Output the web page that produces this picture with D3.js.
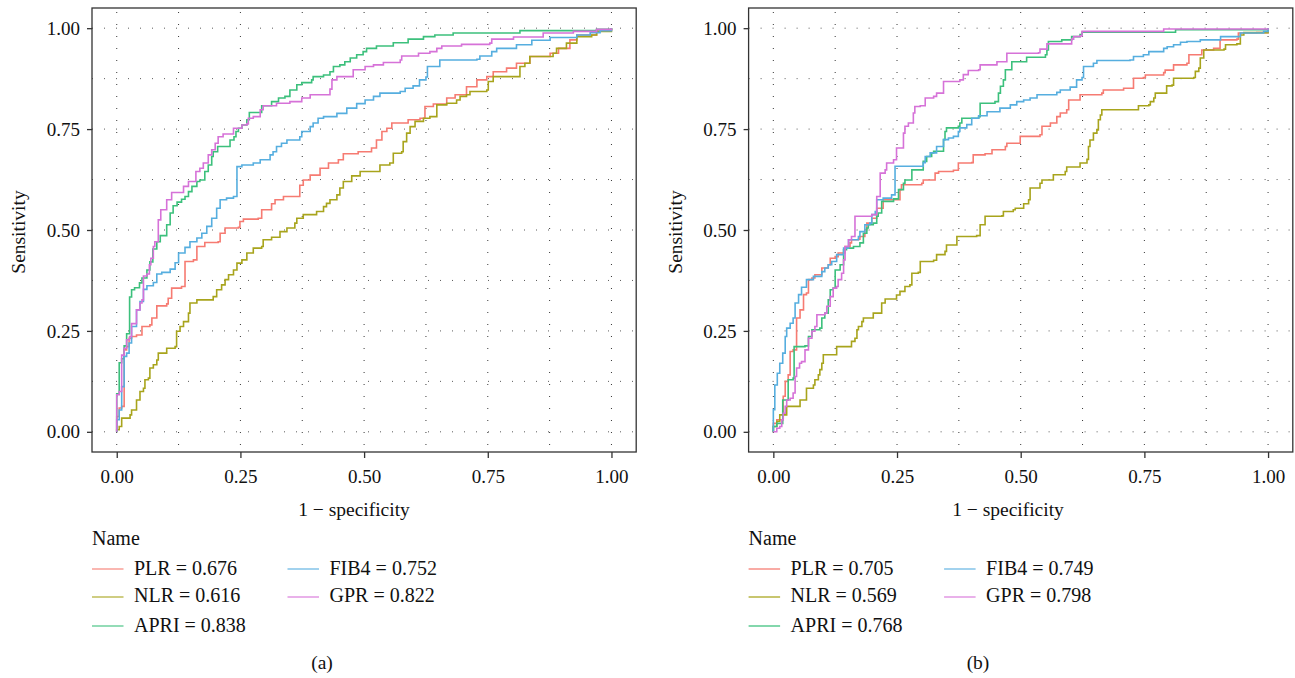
<!DOCTYPE html>
<html>
<head>
<meta charset="utf-8">
<script src="https://d3js.org/d3.v7.min.js"></script>
<style>
  body { margin: 0; background: #fff; }
  svg text { font-family: "Liberation Serif", "DejaVu Serif", serif; fill: #111; }
</style>
</head>
<body>
<script>
// series names, AUC values and ROC points [1 - specificity, sensitivity]
var names = ["PLR", "NLR", "APRI", "FIB4", "GPR"];
var aucA = [0.676, 0.616, 0.838, 0.752, 0.822];
var aucB = [0.705, 0.569, 0.768, 0.749, 0.798];
var tickVals = [0, 0.25, 0.5, 0.75, 1];
var gridVals = [0, 0.125, 0.25, 0.375, 0.5, 0.625, 0.75, 0.875, 1];

var a_PLR = [[0,0],[0,0.038],[0.005,0.059],[0.010,0.063],[0.015,0.203],[0.020,0.211],[0.025,0.232],[0.030,0.236],[0.040,0.240],[0.051,0.261],[0.067,0.265],[0.071,0.282],[0.081,0.312],[0.101,0.317],[0.104,0.331],[0.111,0.356],[0.131,0.360],[0.138,0.422],[0.155,0.426],[0.162,0.459],[0.178,0.469],[0.205,0.471],[0.209,0.492],[0.219,0.505],[0.246,0.507],[0.249,0.521],[0.256,0.527],[0.286,0.529],[0.293,0.550],[0.313,0.565],[0.320,0.575],[0.337,0.583],[0.370,0.611],[0.377,0.624],[0.391,0.636],[0.411,0.653],[0.428,0.666],[0.448,0.674],[0.458,0.689],[0.488,0.694],[0.515,0.703],[0.525,0.723],[0.536,0.744],[0.546,0.752],[0.556,0.765],[0.589,0.773],[0.613,0.777],[0.623,0.806],[0.640,0.812],[0.667,0.827],[0.684,0.835],[0.707,0.855],[0.728,0.872],[0.748,0.880],[0.761,0.892],[0.788,0.901],[0.808,0.913],[0.835,0.930],[0.876,0.938],[0.893,0.950],[0.916,0.971],[0.930,0.983],[0.970,0.996],[1,1]];
var a_NLR = [[0,0],[0,0.005],[0.005,0.013],[0.010,0.034],[0.027,0.042],[0.030,0.054],[0.040,0.079],[0.047,0.100],[0.054,0.108],[0.057,0.129],[0.064,0.133],[0.067,0.158],[0.074,0.166],[0.081,0.178],[0.084,0.195],[0.101,0.207],[0.118,0.211],[0.121,0.249],[0.128,0.261],[0.135,0.273],[0.145,0.294],[0.148,0.319],[0.162,0.327],[0.195,0.335],[0.202,0.352],[0.212,0.364],[0.219,0.377],[0.226,0.389],[0.236,0.401],[0.243,0.418],[0.253,0.426],[0.263,0.443],[0.276,0.455],[0.293,0.459],[0.296,0.476],[0.313,0.482],[0.330,0.496],[0.344,0.505],[0.360,0.517],[0.364,0.529],[0.377,0.538],[0.404,0.546],[0.418,0.558],[0.424,0.566],[0.431,0.575],[0.445,0.587],[0.451,0.604],[0.458,0.620],[0.475,0.634],[0.492,0.645],[0.532,0.661],[0.552,0.666],[0.559,0.690],[0.576,0.694],[0.579,0.719],[0.586,0.740],[0.593,0.756],[0.603,0.769],[0.620,0.777],[0.633,0.781],[0.647,0.810],[0.667,0.814],[0.687,0.822],[0.694,0.831],[0.707,0.835],[0.714,0.843],[0.748,0.847],[0.751,0.868],[0.761,0.880],[0.815,0.905],[0.825,0.913],[0.835,0.930],[0.882,0.938],[0.889,0.950],[0.909,0.963],[0.930,0.979],[0.960,0.983],[0.970,0.992],[1,1]];
var a_APRI = [[0,0],[0,0.094],[0.005,0.171],[0.010,0.181],[0.015,0.213],[0.020,0.243],[0.026,0.334],[0.030,0.352],[0.036,0.357],[0.046,0.369],[0.051,0.381],[0.061,0.401],[0.067,0.421],[0.073,0.453],[0.081,0.471],[0.088,0.486],[0.101,0.513],[0.108,0.542],[0.114,0.560],[0.122,0.569],[0.131,0.576],[0.138,0.583],[0.145,0.595],[0.152,0.608],[0.162,0.620],[0.168,0.624],[0.178,0.645],[0.185,0.661],[0.192,0.682],[0.195,0.694],[0.204,0.707],[0.229,0.723],[0.237,0.731],[0.241,0.744],[0.246,0.752],[0.253,0.760],[0.263,0.773],[0.268,0.791],[0.293,0.808],[0.313,0.818],[0.327,0.827],[0.340,0.831],[0.350,0.847],[0.364,0.860],[0.374,0.865],[0.394,0.872],[0.397,0.880],[0.418,0.884],[0.431,0.892],[0.438,0.905],[0.451,0.909],[0.461,0.917],[0.472,0.926],[0.485,0.934],[0.498,0.942],[0.505,0.950],[0.525,0.956],[0.559,0.964],[0.589,0.973],[0.620,0.979],[0.643,0.983],[0.680,0.988],[0.815,0.994],[0.970,0.997],[1,1]];
var a_FIB4 = [[0,0],[0,0.030],[0.005,0.054],[0.010,0.112],[0.015,0.187],[0.020,0.195],[0.025,0.220],[0.030,0.261],[0.040,0.302],[0.047,0.323],[0.054,0.353],[0.061,0.362],[0.074,0.370],[0.081,0.391],[0.091,0.395],[0.108,0.403],[0.118,0.419],[0.125,0.443],[0.138,0.457],[0.148,0.471],[0.162,0.480],[0.172,0.492],[0.182,0.509],[0.192,0.529],[0.202,0.554],[0.209,0.575],[0.222,0.579],[0.236,0.583],[0.243,0.657],[0.253,0.661],[0.276,0.666],[0.290,0.674],[0.310,0.686],[0.316,0.694],[0.323,0.707],[0.333,0.715],[0.344,0.723],[0.370,0.731],[0.374,0.744],[0.391,0.756],[0.397,0.765],[0.407,0.777],[0.418,0.781],[0.445,0.789],[0.465,0.802],[0.485,0.813],[0.502,0.822],[0.519,0.831],[0.532,0.839],[0.573,0.843],[0.583,0.851],[0.599,0.857],[0.612,0.872],[0.625,0.879],[0.628,0.905],[0.653,0.921],[0.728,0.923],[0.734,0.931],[0.758,0.942],[0.768,0.950],[0.808,0.959],[0.839,0.970],[0.876,0.977],[0.930,0.983],[0.957,0.989],[0.977,0.994],[1,1]];
var a_GPR = [[0,0],[0,0.092],[0.005,0.100],[0.010,0.190],[0.015,0.207],[0.020,0.228],[0.026,0.236],[0.030,0.268],[0.040,0.302],[0.047,0.319],[0.051,0.327],[0.054,0.386],[0.061,0.391],[0.066,0.414],[0.069,0.430],[0.074,0.459],[0.077,0.471],[0.084,0.525],[0.089,0.550],[0.101,0.575],[0.111,0.593],[0.135,0.608],[0.145,0.620],[0.160,0.645],[0.168,0.653],[0.175,0.666],[0.185,0.686],[0.192,0.699],[0.199,0.715],[0.205,0.731],[0.215,0.738],[0.236,0.752],[0.253,0.760],[0.263,0.763],[0.266,0.777],[0.276,0.781],[0.290,0.798],[0.296,0.808],[0.323,0.814],[0.350,0.818],[0.374,0.827],[0.391,0.835],[0.431,0.849],[0.435,0.872],[0.445,0.880],[0.478,0.897],[0.502,0.905],[0.519,0.909],[0.539,0.915],[0.573,0.921],[0.576,0.931],[0.610,0.938],[0.633,0.942],[0.647,0.950],[0.657,0.956],[0.697,0.960],[0.754,0.963],[0.758,0.973],[0.802,0.978],[0.862,0.988],[0.923,0.992],[0.970,0.997],[1,1]];

var b_PLR = [[0,0],[0,0.021],[0.007,0.030],[0.020,0.088],[0.024,0.125],[0.030,0.141],[0.034,0.199],[0.040,0.203],[0.047,0.282],[0.054,0.302],[0.061,0.340],[0.067,0.344],[0.071,0.377],[0.078,0.381],[0.084,0.389],[0.098,0.406],[0.111,0.414],[0.115,0.430],[0.125,0.434],[0.131,0.443],[0.145,0.459],[0.155,0.468],[0.158,0.476],[0.172,0.477],[0.175,0.484],[0.185,0.501],[0.189,0.517],[0.199,0.529],[0.209,0.554],[0.222,0.575],[0.256,0.600],[0.259,0.612],[0.300,0.616],[0.303,0.624],[0.327,0.641],[0.334,0.645],[0.364,0.648],[0.374,0.666],[0.401,0.667],[0.404,0.686],[0.428,0.689],[0.442,0.699],[0.469,0.707],[0.472,0.715],[0.499,0.732],[0.539,0.736],[0.543,0.757],[0.560,0.765],[0.573,0.781],[0.580,0.790],[0.593,0.798],[0.597,0.822],[0.620,0.835],[0.664,0.839],[0.667,0.847],[0.708,0.851],[0.728,0.876],[0.748,0.878],[0.752,0.884],[0.789,0.890],[0.792,0.896],[0.809,0.909],[0.836,0.913],[0.840,0.934],[0.866,0.946],[0.890,0.950],[0.903,0.971],[0.937,0.973],[0.940,0.988],[0.977,0.989],[1,1]];
var b_NLR = [[0,0],[0,0.013],[0.007,0.026],[0.013,0.042],[0.027,0.063],[0.054,0.079],[0.067,0.108],[0.081,0.116],[0.084,0.129],[0.091,0.141],[0.094,0.154],[0.098,0.170],[0.101,0.191],[0.128,0.211],[0.158,0.224],[0.165,0.232],[0.169,0.253],[0.172,0.261],[0.179,0.273],[0.182,0.282],[0.202,0.294],[0.219,0.319],[0.226,0.329],[0.249,0.339],[0.256,0.348],[0.266,0.360],[0.276,0.364],[0.280,0.393],[0.293,0.395],[0.297,0.422],[0.324,0.425],[0.330,0.439],[0.347,0.447],[0.350,0.463],[0.371,0.484],[0.411,0.486],[0.418,0.513],[0.428,0.534],[0.462,0.535],[0.465,0.546],[0.485,0.550],[0.489,0.554],[0.506,0.565],[0.516,0.575],[0.519,0.604],[0.539,0.616],[0.543,0.624],[0.566,0.637],[0.590,0.645],[0.593,0.656],[0.620,0.666],[0.634,0.675],[0.637,0.707],[0.640,0.723],[0.647,0.740],[0.654,0.748],[0.657,0.773],[0.661,0.785],[0.664,0.798],[0.738,0.808],[0.759,0.810],[0.762,0.818],[0.769,0.827],[0.772,0.839],[0.795,0.857],[0.806,0.859],[0.809,0.876],[0.850,0.878],[0.853,0.893],[0.860,0.901],[0.863,0.926],[0.870,0.946],[0.911,0.948],[0.914,0.959],[0.937,0.961],[0.944,0.983],[0.951,0.989],[0.998,0.989],[1,1]];
var b_APRI = [[0,0],[0,0.013],[0.007,0.021],[0.019,0.079],[0.030,0.129],[0.040,0.133],[0.042,0.211],[0.064,0.213],[0.071,0.236],[0.078,0.253],[0.094,0.257],[0.098,0.282],[0.104,0.294],[0.111,0.327],[0.115,0.352],[0.121,0.356],[0.125,0.401],[0.135,0.414],[0.142,0.451],[0.148,0.455],[0.162,0.459],[0.175,0.468],[0.182,0.492],[0.189,0.505],[0.192,0.513],[0.202,0.517],[0.209,0.534],[0.212,0.542],[0.219,0.571],[0.243,0.577],[0.253,0.600],[0.263,0.616],[0.266,0.624],[0.280,0.649],[0.303,0.670],[0.310,0.682],[0.320,0.691],[0.324,0.695],[0.344,0.724],[0.347,0.744],[0.350,0.753],[0.374,0.757],[0.377,0.765],[0.381,0.777],[0.415,0.781],[0.418,0.814],[0.448,0.818],[0.455,0.839],[0.459,0.856],[0.465,0.872],[0.469,0.897],[0.482,0.917],[0.512,0.928],[0.550,0.934],[0.553,0.946],[0.556,0.967],[0.583,0.971],[0.603,0.979],[0.620,0.984],[0.624,0.990],[0.813,0.990],[0.813,0.996],[1,1]];
var b_FIB4 = [[0,0],[0,0.055],[0.003,0.116],[0.008,0.145],[0.013,0.170],[0.019,0.195],[0.024,0.236],[0.027,0.257],[0.034,0.269],[0.040,0.282],[0.044,0.319],[0.051,0.340],[0.057,0.358],[0.067,0.377],[0.081,0.385],[0.098,0.397],[0.104,0.406],[0.111,0.414],[0.118,0.422],[0.128,0.439],[0.142,0.455],[0.152,0.476],[0.172,0.484],[0.175,0.496],[0.185,0.513],[0.195,0.517],[0.199,0.538],[0.206,0.546],[0.209,0.575],[0.222,0.579],[0.239,0.587],[0.246,0.658],[0.303,0.667],[0.307,0.682],[0.317,0.691],[0.330,0.707],[0.344,0.724],[0.354,0.728],[0.364,0.732],[0.374,0.744],[0.377,0.753],[0.391,0.761],[0.401,0.777],[0.415,0.783],[0.432,0.793],[0.458,0.802],[0.479,0.810],[0.492,0.818],[0.506,0.822],[0.519,0.827],[0.533,0.835],[0.573,0.841],[0.580,0.847],[0.600,0.854],[0.613,0.872],[0.624,0.878],[0.627,0.905],[0.647,0.913],[0.654,0.920],[0.721,0.921],[0.728,0.930],[0.748,0.934],[0.759,0.942],[0.789,0.950],[0.796,0.954],[0.809,0.959],[0.823,0.965],[0.836,0.967],[0.863,0.971],[0.904,0.979],[0.944,0.988],[0.991,0.992],[1,1]];
var b_GPR = [[0,0],[0.007,0.009],[0.013,0.013],[0.017,0.030],[0.020,0.046],[0.024,0.063],[0.027,0.079],[0.034,0.083],[0.040,0.096],[0.044,0.137],[0.047,0.158],[0.053,0.170],[0.057,0.174],[0.064,0.203],[0.071,0.232],[0.078,0.249],[0.084,0.261],[0.088,0.290],[0.104,0.294],[0.108,0.311],[0.115,0.335],[0.121,0.356],[0.128,0.360],[0.131,0.377],[0.138,0.393],[0.142,0.426],[0.145,0.459],[0.152,0.476],[0.158,0.484],[0.165,0.534],[0.199,0.538],[0.209,0.583],[0.216,0.641],[0.226,0.649],[0.229,0.666],[0.243,0.674],[0.249,0.703],[0.263,0.740],[0.266,0.757],[0.273,0.765],[0.283,0.790],[0.286,0.806],[0.297,0.808],[0.307,0.827],[0.324,0.831],[0.330,0.839],[0.344,0.868],[0.377,0.872],[0.384,0.885],[0.394,0.895],[0.415,0.897],[0.418,0.909],[0.448,0.909],[0.452,0.917],[0.472,0.938],[0.536,0.939],[0.539,0.948],[0.553,0.961],[0.600,0.961],[0.603,0.973],[0.607,0.979],[0.620,0.981],[0.624,0.992],[0.789,0.992],[0.789,0.998],[1,1]];

var colors = ["#F67B72", "#A8A41C", "#3CC07C", "#56AEDF", "#D672D8"];

var svg = d3.select("body").append("svg")
  .attr("width", 1295)
  .attr("height", 678);

function drawPanel(left, right, series, auc, tag, titleX, tagX) {
  var top = 8, bottom = 452;
  var x = d3.scaleLinear().domain([-0.05, 1.05]).range([left, right]);
  var y = d3.scaleLinear().domain([-0.05, 1.05]).range([bottom, top]);
  var g = svg.append("g");

  // dotted grid, major and minor
  g.selectAll(".hgrid").data(gridVals).enter().append("line")
    .attr("x1", left).attr("x2", right)
    .attr("y1", function(d) { return y(d); })
    .attr("y2", function(d) { return y(d); })
    .attr("stroke", "#333").attr("stroke-width", 1)
    .attr("stroke-dasharray", "1,11").attr("opacity", 0.8);
  g.selectAll(".vgrid").data(gridVals).enter().append("line")
    .attr("y1", top).attr("y2", bottom)
    .attr("x1", function(d) { return x(d); })
    .attr("x2", function(d) { return x(d); })
    .attr("stroke", "#222").attr("stroke-width", 1)
    .attr("stroke-dasharray", "1,11").attr("stroke-dashoffset", -4)
    .attr("opacity", 0.9);

  var line = d3.line()
    .x(function(d) { return x(d[0]); })
    .y(function(d) { return y(d[1]); })
    .curve(d3.curveStepAfter);

  series.forEach(function(s, i) {
    g.append("path")
      .attr("d", line(s))
      .attr("fill", "none")
      .attr("stroke", colors[i])
      .attr("stroke-width", 1.6);
  });

  g.append("rect")
    .attr("x", left).attr("y", top)
    .attr("width", right - left).attr("height", bottom - top)
    .attr("fill", "none").attr("stroke", "#333").attr("stroke-width", 1.3);

  var fmt = d3.format(".2f");
  var yAxis = g.append("g")
    .attr("transform", "translate(" + left + ",0)")
    .call(d3.axisLeft(y).tickValues(tickVals).tickFormat(fmt).tickSize(5).tickPadding(7));
  var xAxis = g.append("g")
    .attr("transform", "translate(0," + bottom + ")")
    .call(d3.axisBottom(x).tickValues(tickVals).tickFormat(fmt).tickSize(6));
  [yAxis, xAxis].forEach(function(ax) {
    ax.select(".domain").remove();
    ax.selectAll("line").attr("stroke", "#333").attr("stroke-width", 1.3);
    ax.selectAll("text")
      .style("font-family", "Liberation Serif, serif")
      .style("font-size", "19px").attr("fill", "#111");
  });
  xAxis.selectAll("text").attr("y", 31).attr("dy", 0);

  g.append("text")
    .attr("x", titleX).attr("y", 516)
    .attr("text-anchor", "middle").style("font-size", "19.5px")
    .text("1 \u2212 specificity");
  g.append("text")
    .attr("transform", "translate(" + (left - 67) + ",232) rotate(-90)")
    .attr("text-anchor", "middle").style("font-size", "19.5px")
    .text("Sensitivity");

  // legend
  g.append("text").attr("x", left).attr("y", 545)
    .style("font-size", "20px").text("Name");
  var keyY = [569, 597, 626];
  var txtY = [574.5, 602, 631.5];
  names.forEach(function(n, i) {
    var col = i < 3 ? 0 : 1;
    var row = i < 3 ? i : i - 3;
    var kx = left + col * 195.5;
    g.append("line")
      .attr("x1", kx).attr("x2", kx + 31.5)
      .attr("y1", keyY[row]).attr("y2", keyY[row])
      .attr("stroke", colors[i]).attr("stroke-width", 1.3)
      .attr("stroke-opacity", 0.85);
    g.append("text")
      .attr("x", kx + 42).attr("y", txtY[row])
      .style("font-size", "20px")
      .text(n + " = " + d3.format(".3f")(auc[i]));
  });

  g.append("text")
    .attr("x", tagX).attr("y", 669)
    .attr("text-anchor", "middle").style("font-size", "19.5px")
    .text(tag);
}

drawPanel(92, 636.2, [a_PLR, a_NLR, a_APRI, a_FIB4, a_GPR], aucA, "(a)", 354, 322);
drawPanel(748.6, 1292.8, [b_PLR, b_NLR, b_APRI, b_FIB4, b_GPR], aucB, "(b)", 1008, 978);
</script>
</body>
</html>
